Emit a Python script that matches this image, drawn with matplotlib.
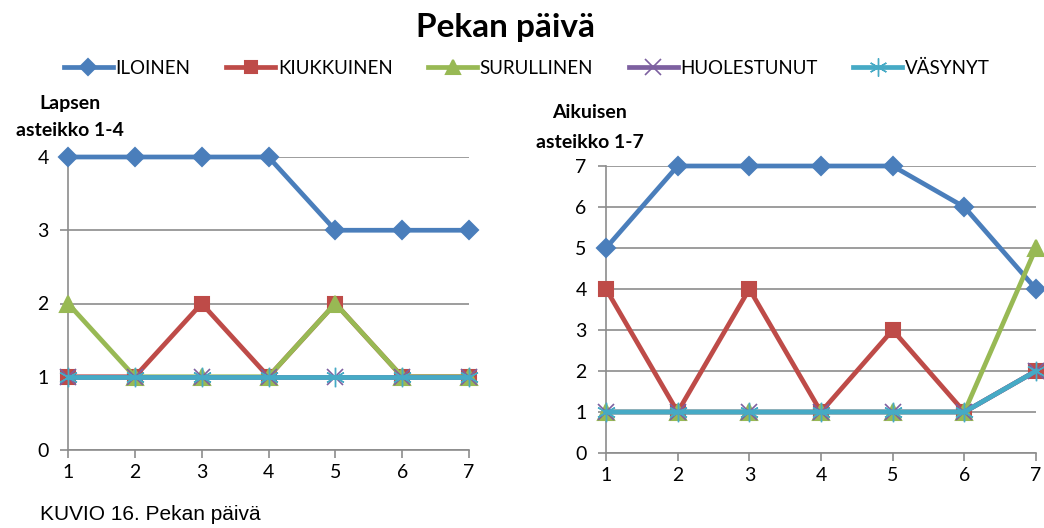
import numpy as np
import matplotlib
matplotlib.use("Agg")
from matplotlib import pyplot as plt
from matplotlib.lines import Line2D

plt.rcParams['font.family'] = ['Lato', 'DejaVu Sans']

days = [1, 2, 3, 4, 5, 6, 7]
names = ['ILOINEN', 'KIUKKUINEN', 'SURULLINEN', 'HUOLESTUNUT', 'VÄSYNYT']

# lapsen arvio (asteikko 1-4)
lapsi_iloinen = [4, 4, 4, 4, 3, 3, 3]
lapsi_kiukku = [1, 1, 2, 1, 2, 1, 1]
lapsi_surullinen = [2, 1, 1, 1, 2, 1, 1]
lapsi_huoli = [1, 1, 1, 1, 1, 1, 1]
lapsi_vasynyt = [1, 1, 1, 1, 1, 1, 1]

# aikuisen arvio (asteikko 1-7)
aikuinen_iloinen = [5, 7, 7, 7, 7, 6, 4]
aikuinen_kiukku = [4, 1, 4, 1, 3, 1, 2]
aikuinen_surullinen = [1, 1, 1, 1, 1, 1, 5]
aikuinen_huoli = [1, 1, 1, 1, 1, 1, 2]
aikuinen_vasynyt = [1, 1, 1, 1, 1, 1, 2]

colors = ['#4A7EBB', '#BE4B48', '#98B954', '#7D60A0', '#46AAC5']
markers = ['D', 's', '^', 'x', (6, 2, 0)]
msizes = [9, 10, 11, 12, 14]
mews = [1.5, 1.5, 1.5, 1.2, 1.0]
grid_c = '#8C8C8C'

fig = plt.figure(figsize=(10.44, 5.28), dpi=100)


def draw(ax, series, ymax):
    for i, vals in enumerate(series):
        ax.plot(days, vals, color=colors[i], lw=3.4, marker=markers[i], ms=msizes[i],
                mew=mews[i], mec=colors[i], clip_on=False, zorder=3 + i)
    ax.set_xlim(1, 7)
    ax.set_ylim(0, ymax)
    ax.set_xticks(days)
    ax.set_yticks(range(ymax + 1))
    ax.grid(axis='y', color=grid_c, lw=1.2)
    ax.set_axisbelow(True)
    for s in ['top', 'right']:
        ax.spines[s].set_visible(False)
    for s in ['left', 'bottom']:
        ax.spines[s].set_color(grid_c)
        ax.spines[s].set_linewidth(1.2)
    ax.tick_params(axis='y', length=6, width=1.2, color=grid_c, pad=8, labelsize=14)
    ax.tick_params(axis='x', length=6, width=1.2, color=grid_c, pad=4, labelsize=14)


ax1 = fig.add_axes([68 / 1044, 1 - 450 / 528, 401 / 1044, 293 / 528])
draw(ax1, [lapsi_iloinen, lapsi_kiukku, lapsi_surullinen, lapsi_huoli, lapsi_vasynyt], 4)

ax2 = fig.add_axes([606 / 1044, 1 - 453 / 528, 430 / 1044, 287 / 528])
draw(ax2, [aikuinen_iloinen, aikuinen_kiukku, aikuinen_surullinen, aikuinen_huoli, aikuinen_vasynyt], 7)

fig.text(505 / 1044, 1 - 28 / 528, 'Pekan päivä', ha='center', va='center',
         fontsize=24, fontweight='bold')

fig.text(70 / 1044, 1 - 103 / 528, 'Lapsen', ha='center', va='center', fontsize=14, fontweight='bold')
fig.text(70 / 1044, 1 - 130 / 528, 'asteikko 1-4', ha='center', va='center', fontsize=14, fontweight='bold')
fig.text(590 / 1044, 1 - 113 / 528, 'Aikuisen', ha='center', va='center', fontsize=14, fontweight='bold')
fig.text(590 / 1044, 1 - 143 / 528, 'asteikko 1-7', ha='center', va='center', fontsize=14, fontweight='bold')

handles = [Line2D([], [], color=colors[i], lw=3.4, marker=markers[i], ms=msizes[i] - 1,
                  mew=mews[i], mec=colors[i]) for i in range(5)]
fig.legend(handles, names, loc='center', bbox_to_anchor=(527 / 1044, 1 - 68 / 528),
           ncol=5, frameon=False, fontsize=13.5, handlelength=2.6, handletextpad=0.15,
           columnspacing=1.9)

fig.text(40 / 1044, 1 - 515 / 528, 'KUVIO 16. Pekan päivä', ha='left', va='center',
         fontsize=15, family=['Liberation Sans', 'DejaVu Sans'])

fig.savefig('out.png', dpi=100)
